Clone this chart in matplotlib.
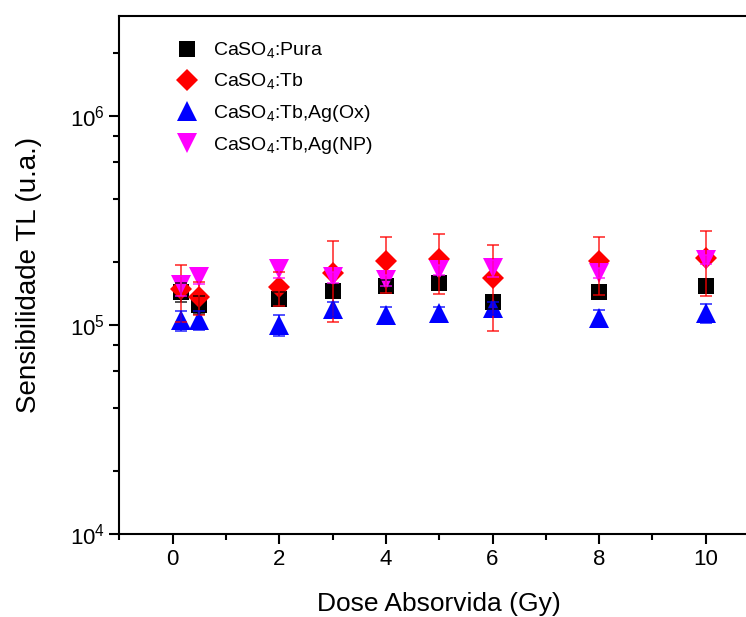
import numpy as np
import matplotlib
matplotlib.use("Agg")
import matplotlib.pyplot as plt
from matplotlib.lines import Line2D
from matplotlib.ticker import LogLocator, MultipleLocator, NullFormatter

plt.rcParams["font.family"] = ["Liberation Sans", "DejaVu Sans"]
plt.rcParams["mathtext.fontset"] = "custom"
plt.rcParams["mathtext.rm"] = "Liberation Sans"
plt.rcParams["mathtext.it"] = "Liberation Sans:italic"
plt.rcParams["mathtext.bf"] = "Liberation Sans:bold"

# --- Data ---
dose = [0.15, 0.5, 2, 3, 4, 5, 6, 8, 10]

pura = [1.44e5, 1.25e5, 1.33e5, 1.46e5, 1.54e5, 1.58e5, 1.29e5, 1.43e5, 1.54e5]
pura_err = [0.15e5, 0.12e5, 0.10e5, 0.10e5, 0.10e5, 0.10e5, 0.10e5, 0.10e5, 0.10e5]

tb = [1.48e5, 1.36e5, 1.51e5, 1.78e5, 2.02e5, 2.07e5, 1.67e5, 2.01e5, 2.10e5]
tb_err = [0.45e5, 0.25e5, 0.28e5, 0.75e5, 0.60e5, 0.66e5, 0.73e5, 0.62e5, 0.72e5]

ag_ox = [1.05e5, 1.06e5, 1.00e5, 1.19e5, 1.12e5, 1.14e5, 1.20e5, 1.08e5, 1.14e5]
ag_ox_err = [0.12e5, 0.11e5, 0.12e5, 0.10e5, 0.10e5, 0.08e5, 0.08e5, 0.10e5, 0.12e5]

ag_np = [1.55e5, 1.70e5, 1.85e5, 1.69e5, 1.64e5, 1.83e5, 1.87e5, 1.77e5, 2.05e5]
ag_np_err = [0.17e5, 0.13e5, 0.18e5, 0.10e5, 0.10e5, 0.10e5, 0.18e5, 0.10e5, 0.10e5]

labels = ["CaSO$_4$:Pura", "CaSO$_4$:Tb", "CaSO$_4$:Tb,Ag(Ox)", "CaSO$_4$:Tb,Ag(NP)"]

# --- Plot ---
fig = plt.figure(figsize=(7.46, 6.17), dpi=100)
ax = fig.add_axes([119.4 / 746, 83 / 617, (759 - 119.4) / 746, (534 - 16) / 617])

series = [
    (pura, pura_err, "black", "s", 11.5),
    (tb, tb_err, "red", "D", 11.5),
    (ag_ox, ag_ox_err, "blue", "^", 14.5),
    (ag_np, ag_np_err, "magenta", "v", 14.5),
]

handles = []
for i, (y, yerr, color, marker, ms) in enumerate(series):
    ax.plot(dose, y, linestyle="none", marker=marker, color=color,
            markersize=ms, markeredgewidth=0, zorder=2 + i * 0.1)
    ax.errorbar(dose, y, yerr=yerr, fmt="none", ecolor=color, elinewidth=1.2,
                capsize=4, capthick=1.2, alpha=0.8, zorder=3)
    handles.append(Line2D([], [], linestyle="none", marker=marker, color=color,
                          markersize=ms, markeredgewidth=0))

ax.set_yscale("log")
ax.set_xlim(-1, 11)
ax.set_ylim(1e4, 3e6)

ax.xaxis.set_major_locator(MultipleLocator(2))
ax.xaxis.set_minor_locator(MultipleLocator(1))
ax.yaxis.set_major_locator(LogLocator(base=10, numticks=10))
ax.yaxis.set_minor_locator(LogLocator(base=10, subs=[2, 4, 6, 8], numticks=10))
ax.yaxis.set_minor_formatter(NullFormatter())

for s in ax.spines.values():
    s.set_linewidth(1.5)
ax.tick_params(which="major", direction="out", length=7, width=1.5, labelsize=16)
ax.tick_params(which="minor", direction="out", length=4, width=1.5)
ax.tick_params(top=False, right=False)

ax.set_xlabel("Dose Absorvida (Gy)", fontsize=19, labelpad=16)
ax.set_ylabel("Sensibilidade TL (u.a.)", fontsize=20, labelpad=20)

ax.legend(handles, labels, loc="upper left", bbox_to_anchor=(0.07, 0.968),
          frameon=False, fontsize=14, handletextpad=0.6, labelspacing=0.57,
          borderaxespad=0, handlelength=1.5)

fig.savefig("out.png", dpi=100)
